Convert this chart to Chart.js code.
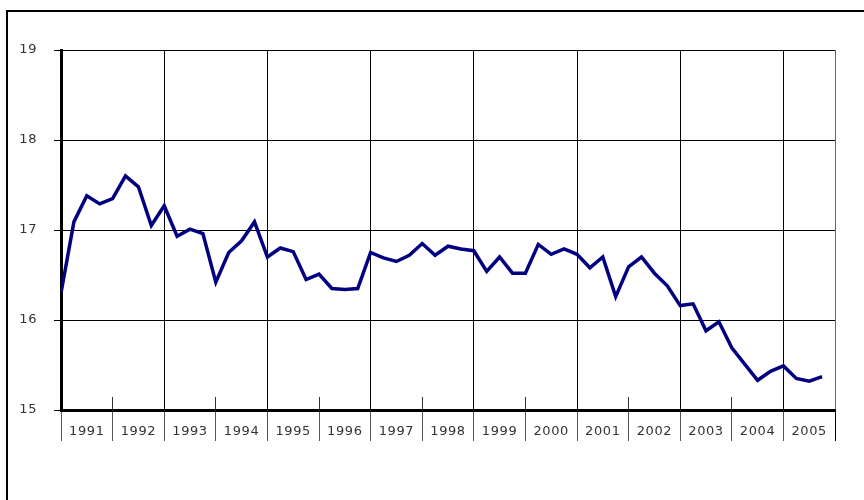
<!DOCTYPE html>
<html>
<head>
<meta charset="utf-8">
<script src="https://cdn.jsdelivr.net/npm/chart.js@4.4.1/dist/chart.umd.min.js"></script>
<style>
  html, body { margin: 0; padding: 0; background: #fff; }
</style>
</head>
<body>
<canvas id="chart" width="864" height="500"></canvas>
<script>
const years = [
  "1991", "1992", "1993", "1994", "1995", "1996", "1997", "1998",
  "1999", "2000", "2001", "2002", "2003", "2004", "2005",
];

// one value per quarter, 1991 Q1 .. 2005 Q4
const quarterValues = [
  16.30, 17.09, 17.38, 17.29, 17.35, 17.60, 17.48, 17.05,
  17.27, 16.93, 17.01, 16.96, 16.42, 16.75, 16.88, 17.09,
  16.70, 16.80, 16.76, 16.45, 16.51, 16.35, 16.34, 16.35,
  16.75, 16.69, 16.65, 16.72, 16.85, 16.72, 16.82, 16.79,
  16.77, 16.54, 16.70, 16.52, 16.52, 16.84, 16.73, 16.79,
  16.73, 16.58, 16.70, 16.26, 16.59, 16.70, 16.52, 16.38,
  16.16, 16.18, 15.88, 15.98, 15.69, 15.51, 15.33, 15.43,
  15.49, 15.35, 15.32, 15.37,
];

const yTicks = [15, 16, 17, 18, 19];

const QUARTERS = quarterValues.length;
const labelFont = { family: "DejaVu Sans", size: 13 };

function halfYearTicks() {
  const out = [];
  for (let v = 0; v <= years.length * 4; v += 2) {
    out.push({ value: v });
  }
  return out;
}

const framePlugin = {
  id: "frame",
  beforeDraw(chart) {
    const c = chart.ctx;
    c.save();
    c.fillStyle = "#fff";
    c.fillRect(0, 0, chart.width, chart.height);
    c.strokeStyle = "#000";
    c.lineWidth = 2;
    c.beginPath();
    c.moveTo(7, chart.height + 2);
    c.lineTo(7, 11);
    c.lineTo(chart.width + 2, 11);
    c.stroke();
    c.restore();
    c.letterSpacing = "0.6px";
  },
};

new Chart(document.getElementById("chart"), {
  type: "line",
  data: {
    datasets: [
      {
        data: quarterValues.map((v, i) => ({ x: i, y: v })),
        borderColor: "#000080",
        borderWidth: 3.5,
        pointRadius: 0,
        tension: 0,
        fill: false,
      },
    ],
  },
  options: {
    responsive: false,
    animation: false,
    devicePixelRatio: 1,
    layout: { padding: { top: 50, right: 29, left: 0, bottom: 0 } },
    plugins: {
      legend: { display: false },
      tooltip: { enabled: false },
    },
    scales: {
      x: {
        type: "linear",
        position: "bottom",
        min: 0,
        max: years.length * 4,
        afterBuildTicks(scale) {
          scale.ticks = halfYearTicks();
        },
        afterFit(scale) {
          scale.height = 90;
        },
        ticks: {
          autoSkip: false,
          maxRotation: 0,
          padding: -17,
          color: "#333",
          font: labelFont,
          callback(value) {
            return value % 4 === 2 ? years[(value - 2) / 4] : "";
          },
        },
        grid: {
          lineWidth: 1,
          tickLength: 31,
          color(ctx) {
            const v = ctx.tick.value;
            if (v === QUARTERS) return "#666";
            return v > 0 && v % 8 === 0 ? "#000" : "rgba(0,0,0,0)";
          },
          tickColor(ctx) {
            const v = ctx.tick.value;
            if (v === QUARTERS) return "#000";
            return v % 4 === 0 ? "#555" : "rgba(0,0,0,0)";
          },
        },
        border: { display: true, color: "#000", width: 3 },
      },
      xInner: {
        type: "linear",
        axis: "x",
        position: { y: 15.145 },
        min: 0,
        max: years.length * 4,
        afterBuildTicks(scale) {
          scale.ticks = halfYearTicks();
        },
        ticks: { display: false },
        grid: {
          drawOnChartArea: false,
          tickLength: 13,
          tickColor(ctx) {
            const v = ctx.tick.value;
            return v % 8 === 4 && v < QUARTERS ? "#333" : "rgba(0,0,0,0)";
          },
        },
        border: { display: false },
      },
      y: {
        min: 15,
        max: 19,
        afterBuildTicks(scale) {
          scale.ticks = yTicks.map((v) => ({ value: v }));
        },
        afterFit(scale) {
          scale.width = 61;
        },
        ticks: {
          padding: 17,
          color: "#333",
          font: labelFont,
        },
        grid: {
          color: "#000",
          lineWidth: 1,
          tickLength: 7,
          tickColor: "#000",
        },
        border: { color: "#000", width: 3 },
      },
    },
  },
  plugins: [framePlugin],
});
</script>
</body>
</html>
